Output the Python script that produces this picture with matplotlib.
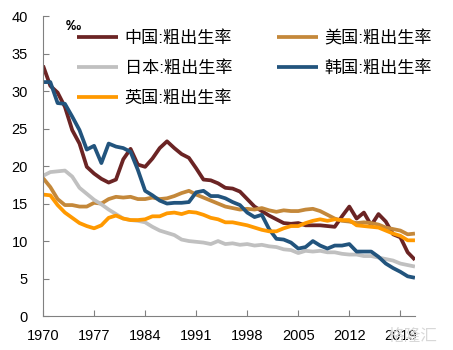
import numpy as np
import matplotlib
matplotlib.use('Agg')
from matplotlib import pyplot as plt

plt.rcParams['font.family'] = ['Liberation Sans', 'Noto Sans CJK SC', 'DejaVu Sans']

# 数据 (‰)
years = list(range(1970, 2022))

china = [33.4, 30.7, 29.8, 27.9, 24.8, 23.0, 19.9, 19.0, 18.3, 17.8,
         18.2, 20.9, 22.3, 20.2, 19.9, 21.0, 22.4, 23.3, 22.4, 21.6,
         21.1, 19.7, 18.2, 18.1, 17.7, 17.1, 17.0, 16.6, 15.6, 14.6,
         14.0, 13.4, 12.9, 12.4, 12.3, 12.4, 12.1, 12.1, 12.1, 12.0,
         11.9, 13.3, 14.6, 13.0, 13.8, 12.1, 13.6, 12.6, 10.9, 10.5,
         8.5, 7.5]
usa = [18.4, 17.2, 15.6, 14.8, 14.8, 14.6, 14.6, 15.1, 15.0, 15.6,
       15.9, 15.8, 15.9, 15.6, 15.6, 15.8, 15.6, 15.7, 16.0, 16.4,
       16.7, 16.2, 15.8, 15.4, 15.0, 14.6, 14.4, 14.2, 14.3, 14.2,
       14.4, 14.1, 13.9, 14.1, 14.0, 14.0, 14.2, 14.3, 14.0, 13.5,
       13.0, 12.7, 12.6, 12.4, 12.5, 12.4, 12.2, 11.8, 11.6, 11.4,
       10.9, 11.0]
japan = [18.7, 19.2, 19.3, 19.4, 18.6, 17.1, 16.3, 15.5, 14.9, 14.2,
         13.6, 13.0, 12.8, 12.7, 12.5, 11.9, 11.4, 11.1, 10.8, 10.2,
         10.0, 9.9, 9.8, 9.6, 10.0, 9.6, 9.7, 9.5, 9.6, 9.4,
         9.5, 9.3, 9.2, 8.9, 8.8, 8.4, 8.7, 8.6, 8.7, 8.5,
         8.5, 8.3, 8.2, 8.2, 8.0, 8.0, 7.8, 7.6, 7.4, 7.0,
         6.8, 6.6]
korea = [31.2, 31.2, 28.4, 28.3, 26.6, 24.8, 22.2, 22.7, 20.4, 23.0,
         22.6, 22.4, 21.9, 19.5, 16.7, 16.1, 15.4, 15.0, 15.1, 15.1,
         15.2, 16.5, 16.7, 16.0, 16.0, 15.7, 15.2, 14.8, 13.8, 13.2,
         13.5, 11.6, 10.3, 10.2, 9.8, 9.0, 9.2, 10.0, 9.4, 9.0,
         9.4, 9.4, 9.6, 8.6, 8.6, 8.6, 7.9, 7.0, 6.4, 5.9,
         5.3, 5.1]
uk = [16.2, 16.1, 14.8, 13.8, 13.1, 12.4, 12.0, 11.7, 12.1, 13.1,
      13.4, 13.0, 12.8, 12.8, 12.9, 13.3, 13.3, 13.7, 13.8, 13.6,
      13.9, 13.8, 13.5, 13.1, 12.9, 12.5, 12.5, 12.3, 12.1, 11.8,
      11.5, 11.3, 11.3, 11.7, 12.0, 12.0, 12.4, 12.7, 12.9, 12.7,
      12.9, 12.8, 12.8, 12.1, 12.0, 11.9, 11.8, 11.4, 11.0, 10.7,
      10.1, 10.1]

labels = ['中国:粗出生率', '美国:粗出生率', '日本:粗出生率', '韩国:粗出生率', '英国:粗出生率']
colors = ['#6B2424', '#C4883A', '#C0C0C0', '#22547D', '#FF9900']
xticks = list(range(1970, 2020, 7))

fig = plt.figure(figsize=(4.53, 3.5), dpi=100)
ax = fig.add_axes([0.095, 0.097, 0.821, 0.857])

series = [china, usa, japan, korea, uk]
lines = []
for s, c, lab in zip(series, colors, labels):
    ln, = ax.plot(years, s, color=c, lw=2.7, label=lab, solid_capstyle='butt')
    lines.append(ln)

ax.set_xlim(1970, 2021)
ax.set_ylim(0, 40)
ax.set_xticks(xticks)
ax.set_yticks(range(0, 41, 5))
for sp in ['top', 'right']:
    ax.spines[sp].set_visible(False)
for sp in ['left', 'bottom']:
    ax.spines[sp].set_color('#808080')
ax.tick_params(direction='in', length=4, color='#808080', labelsize=10.5)
ax.tick_params(axis='x', pad=9)
ax.tick_params(axis='y', pad=11)

# 图例：两列
order = [0, 2, 4, 1, 3]
leg = ax.legend([lines[i] for i in order], [labels[i] for i in order],
                ncol=2, loc='upper left', bbox_to_anchor=(0.05, 1.005),
                frameon=False, fontsize=12.3, handlelength=2.4,
                columnspacing=2.6, labelspacing=0.82, handletextpad=0.4)

fig.text(0.145, 0.925, '‰', fontsize=11, fontweight='bold', ha='left', va='center')
fig.text(0.965, 0.04, '格隆汇', fontsize=12, color='#D8D8D8', ha='right', va='center',
         family=['Noto Sans CJK SC'])

plt.savefig('out.png', dpi=100)
